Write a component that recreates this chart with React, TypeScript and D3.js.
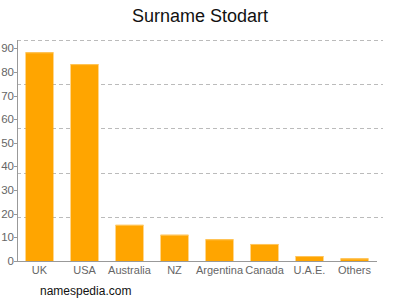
import React from "react";
import * as d3 from "d3";

const categories = ["UK", "USA", "Australia", "NZ", "Argentina", "Canada", "U.A.E.", "Others"];
const values = [88.3, 83.3, 15.3, 11.1, 9.2, 7.2, 2.1, 1.1];
const yTicks = [0, 10, 20, 30, 40, 50, 60, 70, 80, 90];
const yMax = 93.5;
const title = "Surname Stodart";
const footer = "namespedia.com";

export default function App() {
  const W = 400, H = 300;
  const left = 17, right = 377, top = 40, bottom = 261;
  const x = d3.scaleBand<string>().domain(categories).range([left, right]).paddingInner(0.38).paddingOuter(0.19);
  const y = d3.scaleLinear().domain([0, yMax]).range([bottom, top]);
  const grid = d3.range(1, 6).map((i) => (yMax * i) / 5);
  const font = "'Liberation Sans', Arial, sans-serif";
  return (
    <svg width={W} height={H} style={{ position: "absolute", left: 0, top: 0 }} fontFamily={font}>
      <rect width={W} height={H} fill="#fff" />
      <text x={200} y={22} textAnchor="middle" fontSize={18} fill="#111">{title}</text>
      {grid.map((g, i) => (
        <line key={i} x1={left} x2={383} y1={Math.round(y(g)) + 0.5} y2={Math.round(y(g)) + 0.5} stroke="#bbb" strokeDasharray="4,3" />
      ))}
      {categories.map((c, i) => {
        const bx = x(c)!;
        const by = y(values[i]);
        return (
          <g key={c}>
            <rect x={bx} y={by} width={x.bandwidth()} height={bottom - by} fill="#FFA500" />
            <rect x={bx} y={by} width={x.bandwidth()} height={1} fill="#FFC65C" />
            <text x={bx + x.bandwidth() / 2} y={274} textAnchor="middle" fontSize={11} fill="#666">{c}</text>
          </g>
        );
      })}
      <line x1={left + 0.5} x2={left + 0.5} y1={top} y2={bottom} stroke="#999" />
      <line x1={left} x2={right} y1={bottom + 0.5} y2={bottom + 0.5} stroke="#999" />
      {yTicks.map((t) => (
        <g key={t}>
          <line x1={left - 3} x2={left} y1={Math.round(y(t)) + 0.5} y2={Math.round(y(t)) + 0.5} stroke="#999" />
          <text x={left - 3} y={y(t) + 4} textAnchor="end" fontSize={11.5} fill="#666">{t}</text>
        </g>
      ))}
      <text x={40} y={295} fontSize={12} fill="#111">{footer}</text>
    </svg>
  );
}
